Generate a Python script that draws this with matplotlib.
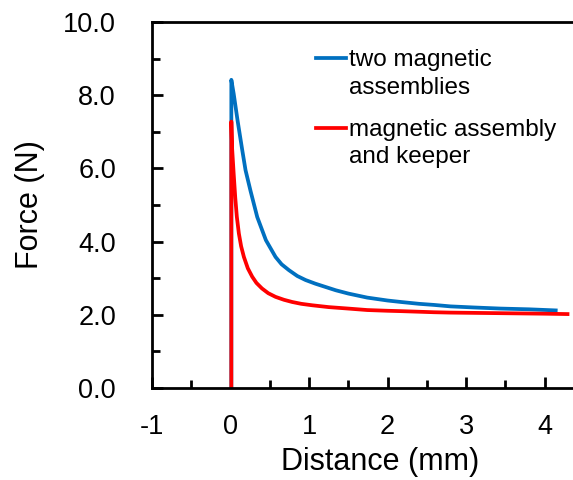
import matplotlib
matplotlib.use("Agg")
import matplotlib.pyplot as plt
from matplotlib.ticker import MultipleLocator, FormatStrFormatter

plt.rcParams['font.family'] = ['Liberation Sans', 'DejaVu Sans']
plt.rcParams['axes.unicode_minus'] = False

# Data
blue_label = "two magnetic\nassemblies"
blue_x = [0.01, 0.01, 0.04, 0.09, 0.149, 0.191, 0.255, 0.34, 0.45, 0.573, 0.65, 0.743, 0.85, 0.955,
          1.08, 1.21, 1.34, 1.50, 1.74, 2.00, 2.17, 2.40, 2.59, 2.80, 3.10, 3.44, 3.80, 4.14]
blue_y = [0.00, 8.42, 8.04, 7.30, 6.50, 5.95, 5.38, 4.67, 4.04, 3.58, 3.38, 3.22, 3.06, 2.95,
          2.85, 2.76, 2.67, 2.58, 2.47, 2.39, 2.35, 2.30, 2.27, 2.23, 2.20, 2.17, 2.15, 2.12]

red_label = "magnetic assembly\nand keeper"
red_x = [0.01, 0.01, 0.02, 0.04, 0.06, 0.08, 0.106, 0.135, 0.17, 0.22, 0.276, 0.33, 0.40, 0.48,
         0.573, 0.68, 0.785, 0.90, 1.04, 1.25, 1.50, 1.74, 2.00, 2.17, 2.59, 2.80, 3.20, 3.60, 4.00, 4.29]
red_y = [0.00, 7.28, 6.55, 5.85, 5.20, 4.68, 4.22, 3.87, 3.58, 3.27, 3.04, 2.87, 2.72, 2.59,
         2.49, 2.41, 2.35, 2.30, 2.26, 2.21, 2.17, 2.13, 2.11, 2.10, 2.07, 2.06, 2.05, 2.04, 2.03, 2.02]

x_ticks = [-1, 0, 1, 2, 3, 4]
y_ticks = [0.0, 2.0, 4.0, 6.0, 8.0, 10.0]

BLUE = '#0070C0'
RED = '#FF0000'

fig = plt.figure(figsize=(5.73, 4.8), dpi=100)
ax = fig.add_axes([152/573, 1 - 388/480, 421/573, 366/480])

ax.plot(blue_x, blue_y, color=BLUE, lw=2.7, solid_joinstyle='round')
ax.plot(red_x, red_y, color=RED, lw=2.7, solid_joinstyle='round')

ax.set_xlim(-1, 4.36)
ax.set_ylim(0, 10)
ax.set_xticks(x_ticks)
ax.set_yticks(y_ticks)
ax.xaxis.set_minor_locator(MultipleLocator(0.5))
ax.yaxis.set_minor_locator(MultipleLocator(1.0))
ax.yaxis.set_major_formatter(FormatStrFormatter('%.1f'))

for s in ['left', 'bottom', 'top']:
    ax.spines[s].set_linewidth(2)
ax.spines['right'].set_visible(False)

ax.tick_params(axis='both', which='major', direction='in', length=8, width=2,
               labelsize=19.5, top=False, right=False)
ax.tick_params(axis='both', which='minor', direction='in', length=6, width=2,
               top=False, right=False)
ax.tick_params(axis='y', which='major', pad=26)
ax.tick_params(axis='x', which='major', pad=19)

ax.set_xlabel("Distance (mm)", fontsize=22)
ax.set_ylabel("Force (N)", fontsize=22)
ax.xaxis.set_label_coords((380 - 152) / 421, -0.16)
ax.yaxis.set_label_coords(-0.255, 0.5)

# Legend drawn in axes coordinates (handles aligned with first text line)
ax.plot([0.389, 0.460], [0.902, 0.902], transform=ax.transAxes, color=BLUE, lw=2.7, clip_on=False)
ax.plot([0.389, 0.460], [0.710, 0.710], transform=ax.transAxes, color=RED, lw=2.7, clip_on=False)
for lab, ys in [(blue_label, [0.881, 0.803]), (red_label, [0.689, 0.614])]:
    for line, yy in zip(lab.split("\n"), ys):
        ax.text(0.468, yy, line, transform=ax.transAxes, fontsize=17.5, va='baseline', ha='left')

fig.savefig("out.png", dpi=100)
